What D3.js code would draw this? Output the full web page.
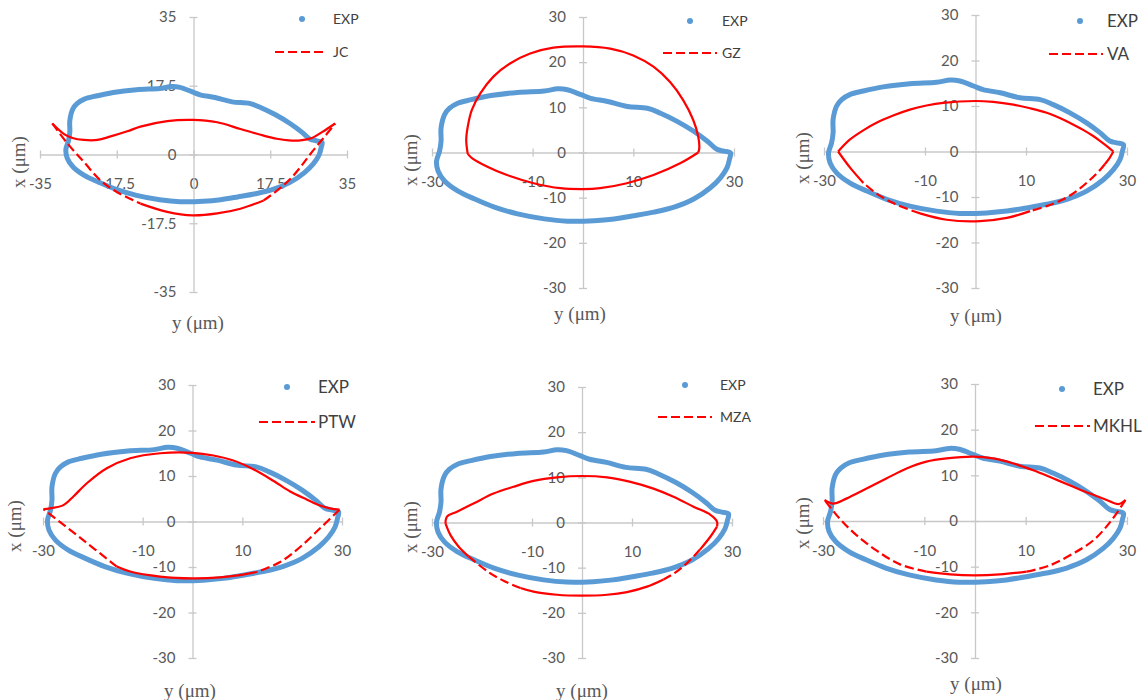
<!DOCTYPE html>
<html>
<head>
<meta charset="utf-8">
<script src="https://cdn.jsdelivr.net/npm/d3@7"></script>
<style>
  body { margin: 0; background: #fff; }
</style>
</head>
<body>
<div id="chart"></div>
<script>
// Experimental profile, pairs of [y, x] in µm (closed loop)
var expPoints = [
  [-29.1, -0.3], [-28.5, 1.9], [-28.2, 4.1], [-28.2, 7.0], [-27.5, 10.0], [-26.5, 11.4],
  [-24.9, 12.5], [-22.2, 13.3], [-18.3, 14.2], [-13.0, 14.9], [-7.7, 15.2], [-5.0, 15.7],
  [-3.1, 15.5], [-0.4, 14.4], [1.5, 13.6], [4.9, 12.9], [8.8, 11.8], [12.8, 11.4],
  [15.4, 10.3], [18.7, 8.5], [22.0, 6.3], [24.7, 4.1], [26.6, 2.3], [28.0, 1.9],
  [29.3, 1.5], [29.1, 0.1], [28.6, -1.8], [27.3, -4.0], [25.3, -6.2], [22.0, -8.7],
  [18.1, -10.5], [14.1, -11.6], [10.1, -12.4], [6.2, -13.1], [2.2, -13.5], [-3.1, -13.6],
  [-7.7, -13.1], [-13.0, -12.0], [-17.6, -10.5], [-21.5, -8.7], [-24.9, -6.9], [-27.5, -4.7],
  [-28.8, -2.5]
];
// vertical offset of the measured profile as plotted in each panel
var expShift = [1.6, -1.6, 0, 0.6, 0.4, 0.2];

var modelNames = ['JC', 'GZ', 'VA', 'PTW', 'MZA', 'MKHL'];

// model profiles, [y, x] in µm
var jcSolid = [
  [[-32.2, 7.9], [-29.5, 5.2], [-27.6, 4.2], [-25.0, 3.7], [-21.9, 3.7], [-18.9, 4.6], [-15.1, 5.9],
   [-12.1, 7.1], [-6.0, 8.5], [-0.2, 8.8], [5.4, 8.2], [10.7, 6.5], [16.0, 4.8], [19.0, 4.0],
   [21.7, 3.6], [24.4, 3.6], [27.0, 4.2], [29.3, 5.7], [32.3, 7.9]],
  [[-12.1, -12.5], [-6.0, -14.6], [-0.2, -15.5], [5.4, -15.0], [10.7, -13.8], [16.0, -11.7]]
];
var jcDashed = [
  [[-32.2, 7.9], [-28.8, 2.9], [-25.0, -1.9], [-21.2, -6.6], [-17.4, -9.6], [-12.1, -12.5]],
  [[16.0, -11.7], [19.4, -8.9], [22.1, -6.2], [24.6, -2.9], [26.7, 0.2], [29.5, 4.0], [32.3, 7.9]]
];

var gzSolid = [
  [[-22.9, -0.3], [-23.2, 2.8], [-22.9, 5.7], [-22.1, 9.4], [-20.4, 13.1], [-17.8, 16.8],
   [-14.5, 19.7], [-10.5, 21.9], [-5.9, 23.2], [0, 23.5], [5.4, 23.0], [10.0, 21.5], [14.0, 19.0],
   [17.3, 15.6], [19.9, 11.6], [21.9, 7.2], [22.9, 3.5], [23.1, 0.9], [22.9, 0]],
  [[22.9, 0], [19.3, -2.4], [14.0, -5.0], [8.7, -6.8], [3.4, -7.9], [0, -8.1], [-4.5, -7.9],
   [-9.8, -6.8], [-15.1, -5.0], [-19.1, -3.1], [-22.0, -1.3], [-22.9, -0.3]]
];
var gzDashed = [];

var vaSolid = [
  [[-27.2, 0], [-24.9, 2.6], [-22.3, 4.6], [-19.6, 6.3], [-16.3, 7.9], [-13.0, 9.2], [-9.7, 10.1],
   [-6.4, 10.7], [0, 11.1], [3.5, 10.9], [7.5, 10.3], [10.8, 9.5], [14.1, 8.5], [16.8, 7.3],
   [19.4, 5.9], [21.4, 4.7], [23.3, 3.4], [24.7, 2.3], [26.0, 1.2], [27.3, 0]],
  [[27.3, 0], [26.5, -1.5], [25.6, -2.8]],
  [[10.8, -13.1], [6.2, -14.6], [0.9, -15.3], [-5.7, -15.0], [-11.0, -13.6]],
  [[-22.2, -6.9], [-24.8, -3.6], [-27.2, 0]]
];
var vaDashed = [
  [[25.6, -2.8], [24.7, -4.0], [22.7, -6.2], [20.0, -8.7], [17.4, -10.5], [14.1, -12.0], [10.8, -13.1]],
  [[-11.0, -13.6], [-16.0, -11.5], [-19.5, -9.3], [-22.2, -6.9]]
];

var ptwSolid = [
  [[-29.9, 2.7], [-28.6, 2.9], [-25.9, 3.6], [-23.9, 5.5], [-21.2, 8.4], [-17.2, 11.7], [-12.5, 13.9],
   [-6.5, 15.0], [0, 15.1], [4.2, 14.5], [8.2, 13.4], [12.2, 11.5], [16.3, 8.9], [19.6, 6.6],
   [23.0, 4.8], [25.6, 3.5], [27.6, 2.9], [29.5, 2.6]],
  [[12.9, -11.1], [9.5, -11.8], [5.5, -12.3], [0, -12.5], [-6.5, -12.1], [-12.5, -11.0], [-15.2, -9.9]]
];
var ptwDashed = [
  [[29.5, 2.6], [25.6, -1.5], [21.6, -5.6], [17.6, -8.9], [12.9, -11.1]],
  [[-15.2, -9.9], [-22.5, -3.6], [-29.9, 2.7]]
];

var mzaSolid = [
  [[-27.3, -0.2], [-27.0, 1.3], [-25.0, 2.4], [-21.7, 4.2], [-17.7, 6.4], [-13.7, 7.9], [-9.7, 9.2],
   [-5.0, 10.0], [0, 10.3], [5.0, 10.0], [9.7, 9.0], [14.3, 7.5], [18.3, 5.7], [22.3, 3.5],
   [25.7, 1.7], [27.0, 0.2], [27.0, -0.9]],
  [[27.0, -0.9], [25.7, -3.1], [23.6, -6.0]],
  [[16.3, -12.6], [13.0, -14.2], [9.0, -15.4], [5.0, -16.0], [0, -16.2], [-5.0, -16.0],
   [-9.7, -15.3], [-12.3, -14.5]],
  [[-22.7, -7.5], [-24.7, -5.3], [-26.3, -2.8], [-27.3, -0.2]]
];
var mzaDashed = [
  [[23.6, -6.0], [21.0, -9.0], [18.5, -11.2], [16.3, -12.6]],
  [[-12.3, -14.5], [-15.5, -13.0], [-18.8, -10.9], [-22.7, -7.5]]
];

var mkhlSolid = [
  [[-29.7, 4.6], [-28.0, 3.8], [-25.4, 4.9], [-21.4, 7.1], [-17.5, 9.3], [-13.5, 11.5], [-9.6, 13.0],
   [-5.6, 13.7], [-0.3, 14.1], [3.6, 13.7], [7.6, 12.6], [11.5, 11.1], [15.5, 9.3], [19.4, 7.5],
   [22.7, 6.0], [26.0, 4.6], [28.3, 3.7], [29.7, 4.6]],
  [[10.2, -11.1], [4.9, -11.7], [0, -11.9], [-4.9, -11.7], [-9.6, -11.1]]
];
var mkhlDashed = [
  [[29.7, 4.6], [26.7, -0.2], [23.4, -4.2], [19.4, -7.1], [14.8, -9.7], [10.2, -11.1]],
  [[-9.6, -11.1], [-14.8, -9.5], [-19.4, -6.5], [-23.4, -3.1], [-26.7, 0.5], [-29.7, 4.6]]
];

var modelSolid = [jcSolid, gzSolid, vaSolid, ptwSolid, mzaSolid, mkhlSolid];
var modelDashed = [jcDashed, gzDashed, vaDashed, ptwDashed, mzaDashed, mkhlDashed];

// axis limits and ticks
var axisLimits = [35, 30, 30, 30, 30, 30];
var hTicks = [
  [-35, -17.5, 0, 17.5, 35],
  [-30, -10, 10, 30], [-30, -10, 10, 30], [-30, -10, 10, 30], [-30, -10, 10, 30], [-30, -10, 10, 30]
];
var vTicks = [
  [-35, -17.5, 0, 17.5, 35],
  [-30, -20, -10, 0, 10, 20, 30], [-30, -20, -10, 0, 10, 20, 30], [-30, -20, -10, 0, 10, 20, 30],
  [-30, -20, -10, 0, 10, 20, 30], [-30, -20, -10, 0, 10, 20, 30]
];

var chartWidth = 1147;
var chartHeight = 700;

// pixel layout of each panel
var layout = [
  {h: [40, 347], v: [292, 17], xt: [18, 162], yt: [198, 322], dot: [302, 19], txt: 333, dash: [275, 325, 52], fs: 14},
  {h: [432, 734], v: [288, 17], xt: [410, 160], yt: [580, 313], dot: [690, 21], txt: 722, dash: [663, 717, 53], fs: 14},
  {h: [824, 1127], v: [288, 15], xt: [802, 158], yt: [976, 315], dot: [1080, 21], txt: 1107, dash: [1049, 1103, 54], fs: 17},
  {h: [43, 342], v: [658, 385], xt: [14, 526], yt: [190, 690], dot: [287, 387], txt: 318, dash: [259, 315, 422], fs: 17},
  {h: [432, 732], v: [658, 387], xt: [410, 527], yt: [582, 690], dot: [685, 385], txt: 720, dash: [658, 712, 417], fs: 14},
  {h: [823, 1127], v: [658, 384], xt: [802, 523], yt: [976, 683], dot: [1062, 389], txt: 1093, dash: [1035, 1090, 426], fs: 17}
];

var blue = '#5b9bd5';
var red = '#ff0000';
var axisColor = '#c8c8c8';
var labelColor = '#595959';

var svg = d3.select('#chart')
    .append('svg')
    .attr('width', chartWidth)
    .attr('height', chartHeight);

layout.forEach(function(L, i) {
  var lim = axisLimits[i];
  var scaleH = d3.scaleLinear().domain([-lim, lim]).range(L.h);
  var scaleV = d3.scaleLinear().domain([-lim, lim]).range(L.v);
  var g = svg.append('g');

  // horizontal axis (y)
  var axisH = d3.axisBottom(scaleH)
      .tickValues(hTicks[i])
      .tickSize(8)
      .tickSizeOuter(0)
      .tickFormat(function(d) { return String(d); });
  var gh = g.append('g')
      .attr('transform', 'translate(0,' + scaleV(0) + ')')
      .call(axisH);
  gh.selectAll('.tick line').attr('y1', -4).attr('y2', 4);
  gh.selectAll('.tick text').attr('y', 24);

  // vertical axis (x)
  var axisV = d3.axisLeft(scaleV)
      .tickValues(vTicks[i])
      .tickSize(8)
      .tickSizeOuter(0)
      .tickFormat(function(d) { return String(d); });
  var gv = g.append('g')
      .attr('transform', 'translate(' + scaleH(0) + ',0)')
      .call(axisV);
  gv.selectAll('.tick line').attr('x1', 4).attr('x2', -4);
  gv.selectAll('.tick text').attr('x', -17);

  [gh, gv].forEach(function(a) {
    a.select('.domain').attr('stroke', axisColor).attr('stroke-width', 1.3);
    a.selectAll('.tick line').attr('stroke', axisColor).attr('stroke-width', 1.3);
    a.selectAll('.tick text')
        .attr('fill', labelColor)
        .style('font-family', 'Lato, "Open Sans", sans-serif')
        .style('font-size', '15px');
  });

  // axis titles
  g.append('text')
      .attr('transform', 'translate(' + L.xt[0] + ',' + L.xt[1] + ') rotate(-90)')
      .attr('text-anchor', 'middle')
      .attr('dy', '0.35em')
      .attr('fill', labelColor)
      .style('font-family', '"Liberation Serif", "DejaVu Serif", serif')
      .style('font-size', '19px')
      .text('x (μm)');
  g.append('text')
      .attr('x', L.yt[0])
      .attr('y', L.yt[1])
      .attr('text-anchor', 'middle')
      .attr('dy', '0.35em')
      .attr('fill', labelColor)
      .style('font-family', '"Liberation Serif", "DejaVu Serif", serif')
      .style('font-size', '19px')
      .text('y (μm)');

  // measured profile
  var shift = expShift[i];
  var expLine = d3.line()
      .x(function(d) { return scaleH(d[0]); })
      .y(function(d) { return scaleV(d[1] + shift); })
      .curve(d3.curveCatmullRomClosed);
  g.append('path')
      .datum(expPoints)
      .attr('d', expLine)
      .attr('fill', 'none')
      .attr('stroke', blue)
      .attr('stroke-width', 5)
      .attr('stroke-linejoin', 'round');

  // model profile
  var modelLine = d3.line()
      .x(function(d) { return scaleH(d[0]); })
      .y(function(d) { return scaleV(d[1]); })
      .curve(d3.curveCatmullRom);
  g.selectAll('path.solid')
      .data(modelSolid[i])
      .enter()
      .append('path')
      .attr('class', 'solid')
      .attr('d', modelLine)
      .attr('fill', 'none')
      .attr('stroke', red)
      .attr('stroke-width', 2.2)
      .attr('stroke-linejoin', 'round');
  g.selectAll('path.dashed')
      .data(modelDashed[i])
      .enter()
      .append('path')
      .attr('class', 'dashed')
      .attr('d', modelLine)
      .attr('fill', 'none')
      .attr('stroke', red)
      .attr('stroke-width', 2.2)
      .attr('stroke-dasharray', '9,4');

  // legend
  g.append('circle')
      .attr('cx', L.dot[0])
      .attr('cy', L.dot[1])
      .attr('r', 3)
      .attr('fill', blue);
  g.append('text')
      .attr('x', L.txt)
      .attr('y', L.dot[1])
      .attr('dy', '0.35em')
      .attr('fill', '#404040')
      .style('font-family', 'Lato, "Open Sans", sans-serif')
      .style('font-size', L.fs + 'px')
      .text('EXP');
  g.append('line')
      .attr('x1', L.dash[0])
      .attr('x2', L.dash[1])
      .attr('y1', L.dash[2])
      .attr('y2', L.dash[2])
      .attr('stroke', red)
      .attr('stroke-width', 2.2)
      .attr('stroke-dasharray', '9,4');
  g.append('text')
      .attr('x', L.txt)
      .attr('y', L.dash[2])
      .attr('dy', '0.35em')
      .attr('fill', '#404040')
      .style('font-family', 'Lato, "Open Sans", sans-serif')
      .style('font-size', L.fs + 'px')
      .text(modelNames[i]);
});
</script>
</body>
</html>
